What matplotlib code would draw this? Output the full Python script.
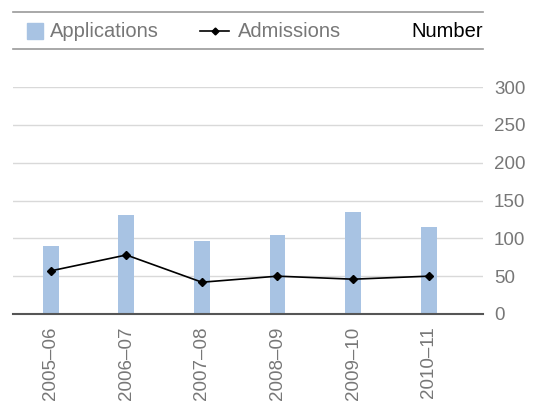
import matplotlib
matplotlib.use("Agg")
import matplotlib.pyplot as plt
from matplotlib.lines import Line2D
from matplotlib.patches import Rectangle

plt.rcParams['font.family'] = ['Liberation Sans', 'DejaVu Sans']

# Data
years = ['2005–06', '2006–07', '2007–08', '2008–09', '2009–10', '2010–11']
applications = [90, 131, 97, 104, 135, 115]
admissions = [57, 78, 42, 50, 46, 50]

bar_col = '#a8c3e3'
grey_txt = '#777777'

fig = plt.figure(figsize=(5.35, 4.03), dpi=100)
W, H = 535.0, 403.0
ax = fig.add_axes([13 / W, 1 - 314 / H, (483 - 13) / W, (314 - 87) / H])

x = list(range(len(years)))
ax.bar(x, applications, width=0.21, color=bar_col, zorder=2)
ax.plot(x, admissions, color='black', lw=1.2, marker='D', ms=4, zorder=3)

ax.set_xlim(-0.5, 5.72)
ax.set_ylim(0, 300)
ax.set_yticks(range(0, 301, 50))
ax.yaxis.tick_right()
ax.grid(axis='y', color='#d9d9d9', lw=1, zorder=0)
ax.set_axisbelow(True)
for s in ['top', 'left', 'right']:
    ax.spines[s].set_visible(False)
ax.spines['bottom'].set_color('#555555')
ax.spines['bottom'].set_linewidth(1.5)
ax.spines['bottom'].set_zorder(4)
ax.tick_params(axis='y', length=0, pad=8, labelsize=13.5, labelcolor=grey_txt)
ax.set_xticks(x)
ax.set_xticklabels(years, rotation=90, fontsize=13.5, color=grey_txt)
ax.tick_params(axis='x', length=0, pad=9)

# header lines and legend
for yy in [12, 49]:
    fig.add_artist(Line2D([13 / W, 483 / W], [1 - yy / H, 1 - yy / H],
                          color='#999999', lw=1.2))
fig.add_artist(Rectangle((27 / W, 1 - 39 / H), 16 / W, 16 / H,
                         color=bar_col, transform=fig.transFigure))
fig.text(50 / W, 1 - 37 / H, 'Applications', fontsize=14.5, color=grey_txt,
         va='baseline', ha='left')
fig.add_artist(Line2D([200 / W, 229 / W], [1 - 31 / H, 1 - 31 / H],
                      color='black', lw=1.2, transform=fig.transFigure))
fig.add_artist(Line2D([214.5 / W], [1 - 31 / H], color='black', marker='D',
                      ms=3.5, transform=fig.transFigure))
fig.text(238 / W, 1 - 37 / H, 'Admissions', fontsize=14.5, color=grey_txt,
         va='baseline', ha='left')
fig.text(483 / W, 1 - 37 / H, 'Number', fontsize=14.5, color='black',
         va='baseline', ha='right')

plt.savefig('out.png', dpi=100)
